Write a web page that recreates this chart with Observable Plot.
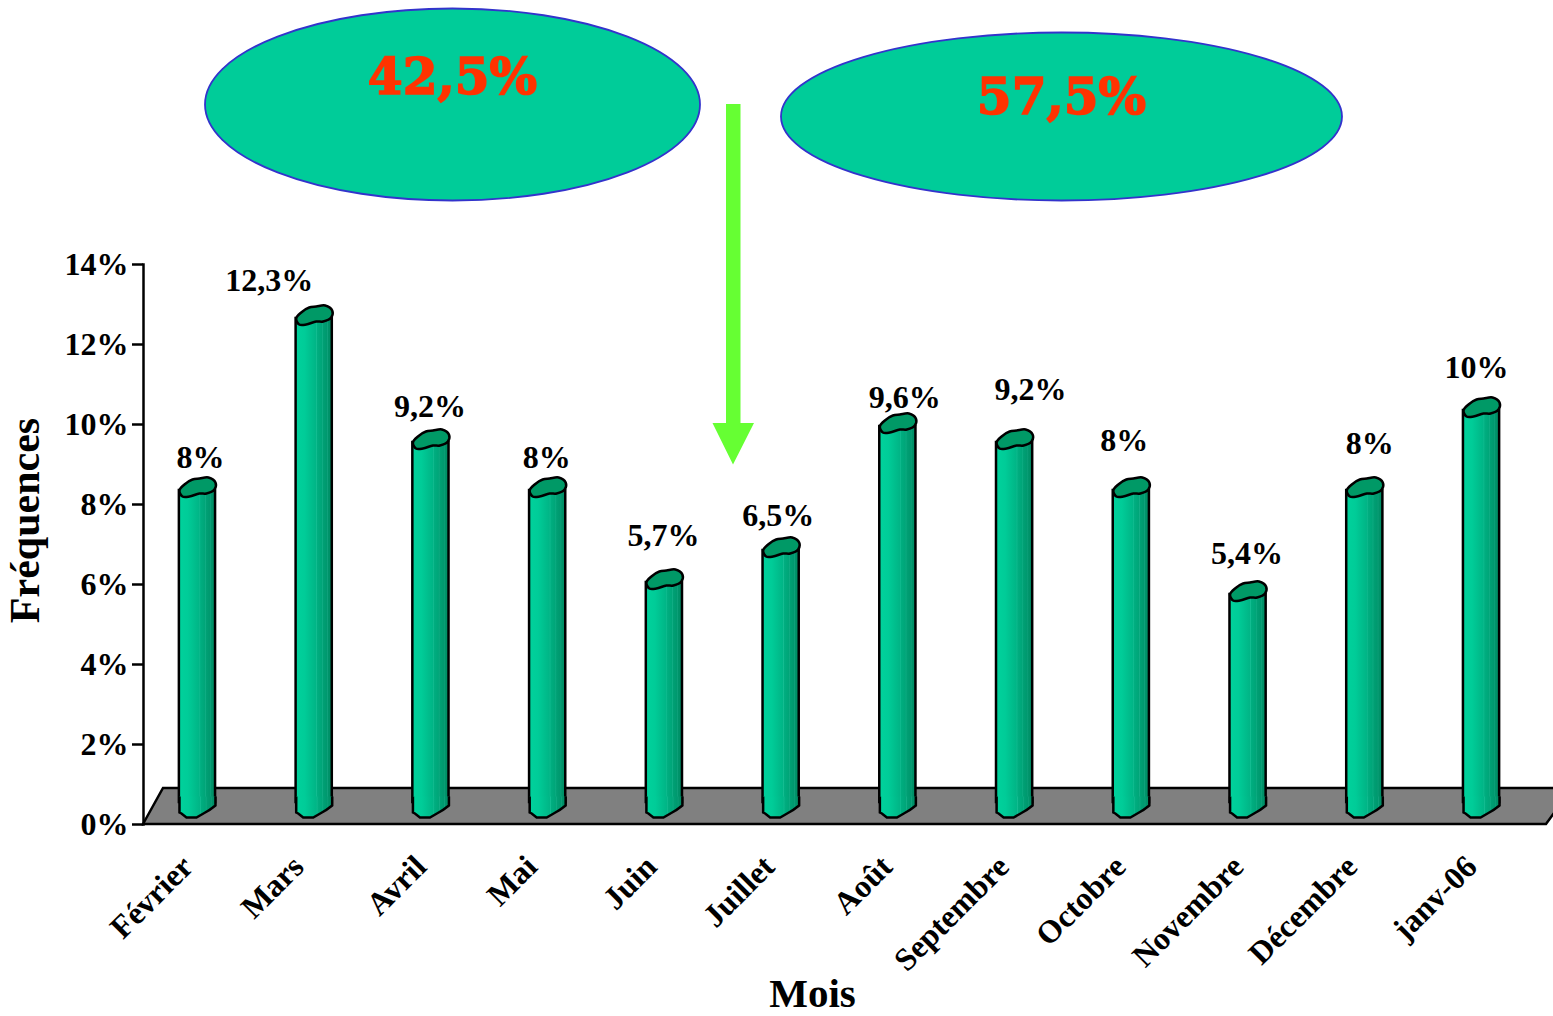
<!DOCTYPE html>
<html lang="fr">
<head>
<meta charset="utf-8">
<title>Fréquences par mois</title>
<script src="https://cdn.jsdelivr.net/npm/d3@7"></script>
<script src="https://cdn.jsdelivr.net/npm/@observablehq/plot@0.6"></script>
<style>
  html, body { margin: 0; padding: 0; background: #fff; overflow: hidden; }
  svg { display: block; }
</style>
</head>
<body>
<div id="chart"></div>
<script>
// Monthly frequencies, in percent
const months = ["Février", "Mars", "Avril", "Mai", "Juin", "Juillet", "Août", "Septembre", "Octobre", "Novembre", "Décembre", "janv-06"];
const frequencies = [8, 12.3, 9.2, 8, 5.7, 6.5, 9.6, 9.2, 8, 5.4, 8, 10];
const yTicks = [0, 2, 4, 6, 8, 10, 12, 14];
const shares = ["42,5%", "57,5%"];

// Hand placement of each value label around its column top, and of the month names
const labelNudgeX = [3, -45, -1, -1, -1, -3, 7, 16, -7, -1, 5, -5];
const labelNudgeY = [-30, -35, -33, -30, -44, -32, -26, -50, -47, -38, -44, -40];
const monthNudgeX = [0, -6, 0, -6, -3, -2, -1, -1, -1, 0, -3, 0];

const rows = months.map((month, i) => ({month, value: frequencies[i]}));
const serif = "'Liberation Serif', 'Times New Roman', serif";
const columnLift = 17; // the columns stand on the middle of the floor, above the axis baseline

// Outline symbols for the column ends, in pixels around the mark position
const capOutline = [[-18, 3], [-13, -3], [-5, -8], [2, -9], [11, -10], [18, -5], [17, 2], [9, 6], [2, 6], [-8, 9], [-15, 9]];
const topCap = {
  draw(c) {
    d3.line().curve(d3.curveCatmullRomClosed).context(c)(capOutline);
  }
};
const footFill = {
  draw(c) {
    c.moveTo(-18, -11);
    c.lineTo(18, -11);
    c.lineTo(18, -2);
    c.quadraticCurveTo(12, 3, 6, 6);
    c.lineTo(-1, 10);
    c.lineTo(-11, 10);
    c.lineTo(-16, 6);
    c.lineTo(-18, 5);
    c.closePath();
  }
};
const footLine = {
  draw(c) {
    c.moveTo(18, -11);
    c.lineTo(18, -2);
    c.quadraticCurveTo(12, 3, 6, 6);
    c.lineTo(-1, 10);
    c.lineTo(-11, 10);
    c.lineTo(-16, 6);
    c.lineTo(-18, 5);
    c.lineTo(-18, -11);
  }
};

// Shared colour ramp of the cylinders, with the faint facets on the shaded side
function gradientDefs() {
  const defs = d3.create("svg:defs");
  const ramp = defs.append("linearGradient").attr("id", "cylinder");
  const stops = [
    [0, "#00d29c"], [0.25, "#00cc98"], [0.45, "#00bd8c"],
    [0.56, "#00b586"], [0.58, "#14bd92"], [0.6, "#00ae80"],
    [0.72, "#00a578"], [0.74, "#12ae86"], [0.76, "#00a074"],
    [0.86, "#00986e"], [0.88, "#10a27c"], [0.9, "#00946a"],
    [1, "#008c64"]
  ];
  stops.forEach(([offset, color]) => ramp.append("stop").attr("offset", offset).attr("stop-color", color));
  return defs.node();
}

// Grey floor plane under the columns
function floor(index, {y}) {
  const base = y(0), back = y(0.9), g = d3.create("svg:g");
  g.append("path")
    .attr("d", `M143,${base}L163,${back}L1572,${back}L1546,${base}Z`)
    .attr("fill", "#808080")
    .attr("stroke", "#000")
    .attr("stroke-width", 2.5);
  return g.node();
}

// Share bubbles and the arrow between them
function annotations() {
  const g = d3.create("svg:g");
  const bubbles = [
    {cx: 452.5, cy: 104.5, rx: 247.5, ry: 96, ty: 76},
    {cx: 1061.5, cy: 116.5, rx: 280.5, ry: 84, ty: 96}
  ];
  bubbles.forEach((b, i) => {
    g.append("ellipse")
      .attr("cx", b.cx).attr("cy", b.cy).attr("rx", b.rx).attr("ry", b.ry)
      .attr("fill", "#00cc99").attr("stroke", "#3333cc").attr("stroke-width", 1.8);
    g.append("text")
      .attr("x", b.cx).attr("y", b.ty)
      .attr("text-anchor", "middle").attr("dominant-baseline", "central")
      .attr("font-family", "'DejaVu Serif', serif").attr("font-weight", 700).attr("font-size", 50)
      .attr("fill", "#ff3300").attr("stroke", "#ff3300").attr("stroke-width", 1.6)
      .text(shares[i]);
  });
  g.append("path")
    .attr("d", "M726,104H740.5V423H754L733,464.5L712.5,423H726Z")
    .attr("fill", "#66ff33");
  return g.node();
}

const frame = {marginLeft: 143, marginRight: 0, marginTop: 264, marginBottom: 192};

const chart = Plot.plot({
  width: 1553,
  height: 1016,
  ...frame,
  style: {background: "#fff", overflow: "visible"},
  x: {domain: months, range: [138.6, 1539.4], paddingInner: 0.69, paddingOuter: 0.345, round: false, label: null},
  y: {domain: [0, 14], label: null},
  marks: [
    gradientDefs,
    floor,
    Plot.frame({anchor: "left", stroke: "#000", strokeWidth: 2.5}),
    Plot.axisY({
      ticks: yTicks,
      tickSize: 11,
      tickPadding: 4,
      tickFormat: d => `${d}%`,
      label: null,
      fontFamily: serif,
      fontWeight: 700,
      fontSize: 32,
      fill: "#000",
      stroke: "#000",
      strokeWidth: 2.5
    }),
    // One axis call per month so each name can keep its own small shift
    months.map((month, i) => Plot.axisX([month], {
      tickSize: 0,
      tickRotate: -45,
      tickPadding: 37,
      dx: -10 + monthNudgeX[i],
      label: null,
      fontFamily: serif,
      fontWeight: 700,
      fontSize: 32,
      fill: "#000"
    })),
    Plot.barY(rows, {
      x: "month",
      y: "value",
      dy: -columnLift,
      insetTop: 3,
      insetBottom: 5,
      fill: "url(#cylinder)",
      stroke: "#000",
      strokeWidth: 2.5
    }),
    Plot.dot(rows, {x: "month", y: () => 0, dy: -columnLift, symbol: footFill, fill: "url(#cylinder)", stroke: "none"}),
    Plot.dot(rows, {x: "month", y: () => 0, dy: -columnLift, symbol: footLine, fill: "none", stroke: "#000", strokeWidth: 2.5}),
    Plot.dot(rows, {x: "month", y: "value", dy: -columnLift, symbol: topCap, fill: "#009966", stroke: "#000", strokeWidth: 2.5}),
    // Value labels sit at individually chosen offsets, so each gets its own mark
    rows.map((row, i) => Plot.text([row], {
      x: "month",
      y: "value",
      dx: labelNudgeX[i],
      dy: labelNudgeY[i] - columnLift,
      text: d => `${String(d.value).replace(".", ",")}%`,
      fontFamily: serif,
      fontWeight: 700,
      fontSize: 32,
      fill: "#000"
    })),
    Plot.text(["Fréquences"], {
      frameAnchor: "left",
      textAnchor: "middle",
      dx: -118,
      dy: -24,
      rotate: -90,
      text: d => d,
      fontFamily: serif,
      fontWeight: 700,
      fontSize: 42,
      fill: "#000"
    }),
    Plot.text(["Mois"], {
      frameAnchor: "bottom",
      dx: -36,
      dy: 182,
      text: d => d,
      fontFamily: serif,
      fontWeight: 700,
      fontSize: 41,
      fill: "#000"
    }),
    annotations
  ]
});

document.getElementById("chart").append(chart);
</script>
</body>
</html>
